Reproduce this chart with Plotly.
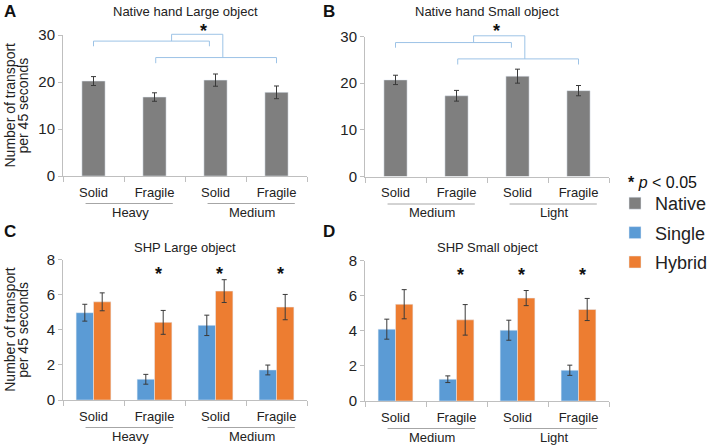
import plotly.graph_objects as go

# ---------------- data ----------------
categories = ["Solid", "Fragile", "Solid", "Fragile"]
groups_large = ["Heavy", "Medium"]
groups_small = ["Medium", "Light"]

native_large = [20.2, 16.8, 20.4, 17.8]
native_large_err = [0.95, 0.9, 1.3, 1.35]
native_small = [20.7, 17.3, 21.5, 18.4]
native_small_err = [1.0, 1.15, 1.5, 1.1]

single_large = [4.97, 1.18, 4.25, 1.71]
single_large_err = [0.48, 0.28, 0.58, 0.28]
hybrid_large = [5.59, 4.42, 6.2, 5.29]
hybrid_large_err = [0.51, 0.68, 0.65, 0.72]

single_small = [4.09, 1.24, 4.03, 1.75]
single_small_err = [0.57, 0.19, 0.57, 0.29]
hybrid_small = [5.51, 4.62, 5.86, 5.21]
hybrid_small_err = [0.83, 0.87, 0.43, 0.63]

sig_shp = [False, True, True, True]

# ---------------- style ----------------
FONT = "Liberation Sans, Arial, sans-serif"
C_NATIVE = "#7f7f7f"
C_SINGLE = "#5b9bd5"
C_HYBRID = "#ed7d31"
C_AXIS = "#bfbfbf"
C_TEXT = "#404040"
C_BRACKET = "#9dc3e6"
W, H = 708, 446

def xdom(px0, px1):
    return [px0 / W, px1 / W]

def ydom(top, bottom):
    return [1 - bottom / H, 1 - top / H]

panels = {
    "": dict(x=xdom(63, 307), y=ydom(35, 176)),
    "2": dict(x=xdom(365, 609), y=ydom(36.5, 176.5)),
    "3": dict(x=xdom(63, 307), y=ydom(259.5, 400)),
    "4": dict(x=xdom(365, 609), y=ydom(260.5, 401)),
}

fig = go.Figure()
xs = list(range(len(categories)))
err_style = dict(type="data", color="#3a3a3a", thickness=1, width=2.5, visible=True)

fig.add_trace(go.Bar(x=xs, y=native_large, width=0.38, marker_color=C_NATIVE,
                     error_y=dict(array=native_large_err, **err_style),
                     name="Native", legendgroup="n", showlegend=True,
                     xaxis="x", yaxis="y"))
fig.add_trace(go.Bar(x=xs, y=native_small, width=0.38, marker_color=C_NATIVE,
                     error_y=dict(array=native_small_err, **err_style),
                     name="Native", showlegend=False, xaxis="x2", yaxis="y2"))
fig.add_trace(go.Bar(x=xs, y=single_large, marker_color=C_SINGLE, offsetgroup="s",
                     error_y=dict(array=single_large_err, **err_style),
                     name="Single", legendgroup="s", showlegend=True, xaxis="x3", yaxis="y3"))
fig.add_trace(go.Bar(x=xs, y=hybrid_large, marker_color=C_HYBRID, offsetgroup="h",
                     error_y=dict(array=hybrid_large_err, **err_style),
                     name="Hybrid", legendgroup="h", showlegend=True, xaxis="x3", yaxis="y3"))
fig.add_trace(go.Bar(x=xs, y=single_small, marker_color=C_SINGLE, offsetgroup="s",
                     error_y=dict(array=single_small_err, **err_style),
                     name="Single", showlegend=False, xaxis="x4", yaxis="y4"))
fig.add_trace(go.Bar(x=xs, y=hybrid_small, marker_color=C_HYBRID, offsetgroup="h",
                     error_y=dict(array=hybrid_small_err, **err_style),
                     name="Hybrid", showlegend=False, xaxis="x4", yaxis="y4"))

XR = [-0.5, len(categories) - 0.5]
layout = dict(
    width=W, height=H, margin=dict(l=0, r=0, t=0, b=0, autoexpand=False),
    paper_bgcolor="white", plot_bgcolor="white",
    font=dict(family=FONT, color=C_TEXT),
    barmode="group", bargap=0.43, bargroupgap=0,
    showlegend=True,
    legend=dict(x=615 / W, y=1 - 185 / H, xanchor="left", yanchor="top",
                font=dict(size=18, color="#222222", family=FONT),
                traceorder="grouped", tracegroupgap=3, bgcolor="rgba(0,0,0,0)"),
)
for k, d in panels.items():
    ymax, dt = (30, 10) if k in ("", "2") else (8, 2)
    layout["xaxis" + k] = dict(
        domain=d["x"], anchor="y" + k, range=XR, tickmode="array",
        tickvals=xs, ticktext=categories, ticks="", showgrid=False, zeroline=False,
        showline=True, linecolor=C_AXIS, linewidth=1, automargin=False,
        ticklabelstandoff=4,
        tickfont=dict(size=13, color="#222222"),
        minor=dict(tickmode="array", tickvals=[-0.5, 0.5, 1.5, 2.5, 3.5],
                   ticks="outside", ticklen=5, tickcolor=C_AXIS, showgrid=False),
    )
    layout["yaxis" + k] = dict(
        domain=d["y"], anchor="x" + k, range=[0, ymax], dtick=dt, showgrid=False,
        zeroline=False, showline=True, linecolor=C_AXIS, linewidth=1, automargin=False,
        ticks="outside", ticklen=4, tickcolor=C_AXIS,
        tickfont=dict(size=15, color="#222222"),
    )
fig.update_layout(**layout)

annotations = []
shapes = []

def xd(v):
    return (v - XR[0]) / (XR[1] - XR[0])

titles = {"": "Native hand Large object", "2": "Native hand Small object",
          "3": "SHP Large object", "4": "SHP Small object"}
letters = {"": ("A", 10, 12), "2": ("B", 329, 12), "3": ("C", 10, 232), "4": ("D", 329, 232)}
title_y = {"": 12, "2": 12, "3": 247, "4": 247}
top_px = {"": 35, "2": 36.5, "3": 259.5, "4": 260.5}
bot_px = {"": 176, "2": 176.5, "3": 400, "4": 401}
glabels = {"": groups_large, "2": groups_small, "3": groups_large, "4": groups_small}
star_x = {"": 1.8, "2": 1.66}

for k in panels:
    h = bot_px[k] - top_px[k]
    xref_dom = ("x" + k if k else "x") + " domain"
    yref_dom = ("y" + k if k else "y") + " domain"
    xref_d = "x" + k if k else "x"
    annotations.append(dict(text=titles[k], xref=xref_dom, x=0.5,
                            yref="paper", y=1 - title_y[k] / H, showarrow=False,
                            font=dict(size=13, color="#222222"), xanchor="center", yanchor="middle"))
    L, lx, ly = letters[k]
    annotations.append(dict(text="<b>" + L + "</b>", xref="paper", x=lx / W, yref="paper",
                            y=1 - ly / H, showarrow=False, xanchor="center", yanchor="middle",
                            font=dict(size=17, color="#111111")))
    for gi, g in enumerate(glabels[k]):
        i0 = 2 * gi
        shapes.append(dict(type="line", xref=xref_dom, yref=yref_dom,
                           x0=xd(i0 - 0.13), x1=xd(i0 + 1.3), y0=-27.5 / h, y1=-27.5 / h,
                           line=dict(color="#a6a6a6", width=1)))
        annotations.append(dict(text=g, xref=xref_d, x=i0 + 0.6, yref=yref_dom, y=-36.5 / h,
                                showarrow=False, xanchor="center", yanchor="middle",
                                font=dict(size=13, color="#222222")))
    if k in ("", "3"):
        ymid = 1 - (top_px[k] + bot_px[k]) / 2 / H
        for txt, xp in (("Number of transport", 10), ("per 45 seconds", 23)):
            annotations.append(dict(text=txt, xref="paper", x=xp / W, yref="paper", y=ymid,
                                    textangle=-90, showarrow=False, xanchor="center",
                                    yanchor="middle", font=dict(size=14, color="#222222")))

# significance brackets for native panels
for k in ("", "2"):
    xref_dom = ("x" + k if k else "x") + " domain"
    yref_dom = ("y" + k if k else "y") + " domain"
    h = bot_px[k] - top_px[k]
    ymax = 30
    def yy(v):
        return v / ymax
    segs = [
        [(0, 27.6), (0, 28.7), (1.9, 28.7), (1.9, 27.6)],
        [(1.02, 24.0), (1.02, 25.2), (3.0, 25.2), (3.0, 24.0)],
        [(1.28, 28.7), (1.28, 30.15), (2.12, 30.15), (2.12, 25.2)],
    ]
    for seg in segs:
        p = "M " + " L ".join(f"{xd(a):.4f},{yy(b):.4f}" for a, b in seg)
        shapes.append(dict(type="path", xref=xref_dom, yref=yref_dom, path=p,
                           line=dict(color=C_BRACKET, width=1)))
    star_px = 30.5 if k == "" else 31.5
    annotations.append(dict(text="<b>*</b>", xref="x" + k if k else "x", x=star_x[k],
                            yref=yref_dom, y=(bot_px[k] - star_px) / h, showarrow=False,
                            xanchor="center", yanchor="middle",
                            font=dict(size=18, color="#111111")))

# asterisks for SHP panels
for k in ("3", "4"):
    for i, s in enumerate(sig_shp):
        if s:
            annotations.append(dict(text="<b>*</b>", xref="x" + k, x=i + 0.06, yref="y" + k,
                                    y=7.15, showarrow=False, xanchor="center", yanchor="middle",
                                    font=dict(size=18, color="#111111")))

annotations.append(dict(text="<b>*</b> <i>p</i> < 0.05", xref="paper", x=626 / W, yref="paper",
                        y=1 - 183 / H, showarrow=False, xanchor="left", yanchor="middle",
                        font=dict(size=16, color="#111111")))

fig.update_layout(annotations=annotations, shapes=shapes)
fig.write_html("out.html", config={"displayModeBar": False},
               post_script="document.body.style.margin='0';document.body.style.overflow='hidden';")
